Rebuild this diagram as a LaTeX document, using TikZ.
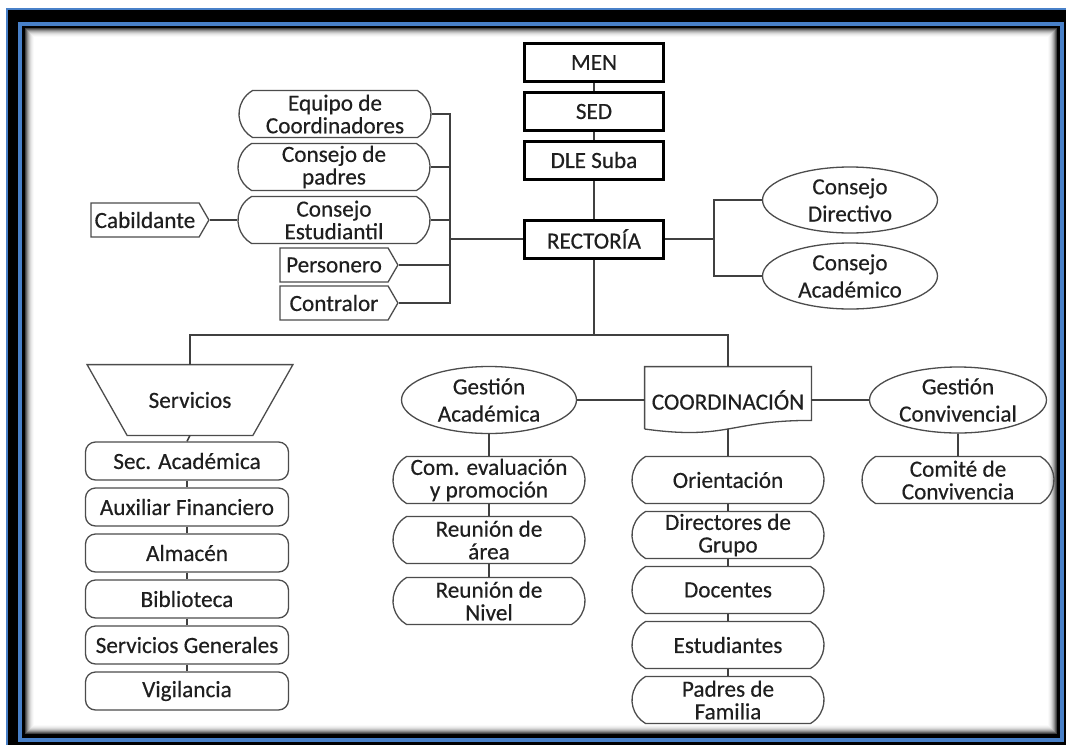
\documentclass[tikz,border=0pt]{standalone}
\usepackage{fontspec}
\setmainfont{Carlito}[FakeBold=0.4]
\usetikzlibrary{shapes.geometric,shapes.misc,shapes.symbols}
\definecolor{marco}{RGB}{72,128,200}
\tikzset{
  caja/.style={draw=black, line width=1.5pt, minimum width=69.5pt, minimum height=19pt, inner sep=0pt},
  ovalo/.style={ellipse, draw=black!70, line width=0.65pt, minimum width=87.5pt, minimum height=33pt, inner xsep=0pt, inner ysep=-1.5pt, align=center, font=\fontsize{11.6}{13.6}\selectfont},
  capsula/.style={rounded rectangle, rounded rectangle arc length=120, draw=black!70, line width=0.65pt, minimum width=88pt, minimum height=23.5pt, inner xsep=-4pt, inner ysep=0pt, align=center},
  servbox/.style={rectangle, rounded corners=5pt, draw=black!70, line width=0.65pt, minimum width=101.5pt, minimum height=19pt, inner sep=0pt},
  flecha/.style={signal, signal to=east, signal pointer angle=120, draw=black!70, line width=0.65pt, minimum width=59pt, minimum height=17pt, inner sep=0pt},
  borde/.style={draw=black!70, line width=0.65pt},
  linea/.style={draw=black!75, line width=0.8pt}
}
\begin{document}
\begin{tikzpicture}[x=0.5pt, y=-0.5pt, font=\fontsize{11.6}{11.3}\selectfont, text=black!88]
  % marco
  \useasboundingbox[fill=white] (0,0) rectangle (1066,745);
  \fill[black] (6,8) rectangle (1066,745);
  \draw[marco, line width=1pt] (7,745) -- (7,9) -- (1066,9);
  \draw[marco, line width=2pt] (20,23.5) rectangle (1062,739.5);
  \fill[white] (25,28) rectangle (1057,734);
  \foreach \d/\g in {0/75,1/60,2/45,3/33,4/23,5/15,6/9,7/5,8/2}
    \draw[black!\g, line width=0.5pt] (25.5+\d,28.5+\d) rectangle (1056.5-\d,733.5-\d);

  % cadena superior
  \node[caja] (men) at (594,62.5) {MEN};
  \node[caja] (sed) at (594,111.5) {SED};
  \node[caja] (dle) at (594,160) {DLE Suba};
  \node[caja] (rect) at (594,239) {RECTORÍA};
  \draw[linea] (men) -- (sed);
  \draw[linea] (sed) -- (dle);
  \draw[linea] (dle) -- (rect);

  % consejos
  \node[ovalo] (cdir) at (850,200) {Consejo\\Directivo};
  \node[ovalo] (cacad) at (850,276) {Consejo\\Académico};
  \draw[linea] (rect.east) -- ++(49,0) coordinate (rder) |- (cdir.west);
  \draw[linea] (rder) |- (cacad.west);

  % gobierno escolar
  \node[capsula] (equipo) at (335,114) {Equipo de\\Coordinadores};
  \node[capsula] (cpadres) at (334,167) {Consejo de\\padres};
  \node[capsula] (cestud) at (334,220) {Consejo\\Estudiantil};
  \node[flecha] (perso) at (334,265) {Personero};
  \node[flecha] (contra) at (334,303) {Contralor};
  \node[flecha] (cabil) at (145,220) {Cabildante};
  \coordinate (lbus) at (450,239);
  \draw[linea] (rect.west) -- (lbus);
  \foreach \n in {equipo,cpadres,cestud,perso,contra}
    \draw[linea] (\n.east) -| (lbus);
  \draw[linea] (cabil.east) -- (cestud.west);

  % servicios
  \node[minimum width=102.5pt, minimum height=35pt, inner sep=0pt] (serv) at (190,400) {Servicios};
  \draw[borde] (serv.north west) -- (serv.north east) -- ([xshift=-20pt]serv.south east) -- ([xshift=20pt]serv.south west) -- cycle;
  \foreach \t [count=\i] in {Sec. Académica, Auxiliar Financiero, Almacén, Biblioteca, Servicios Generales, Vigilancia}
    \node[servbox] (s\i) at (187,415+46*\i) {\t};
  \draw[linea] (serv.south) -- (s1.north);
  \foreach \a/\b in {1/2,2/3,3/4,4/5,5/6}
    \draw[linea] (s\a.south) -- (s\b.north);

  % coordinacion
  \node[minimum width=83pt, minimum height=33pt, inner sep=0pt] (coord) at (728,400) {COORDINACIÓN};
  \draw[borde] ([yshift=2.2pt]coord.south west) -- (coord.north west) -- (coord.north east)
    -- ([yshift=6.5pt]coord.south east) .. controls +(-83,0) and +(83,11.4) .. ([yshift=2.2pt]coord.south west)
    coordinate[pos=0.5] (cwave);
  \coordinate (bbus) at (594,335);
  \draw[linea] (rect.south) -- (bbus);
  \draw[linea] (serv.north) |- (coord.north |- bbus) -- (coord.north);

  % gestion academica
  \node[ovalo, minimum height=33.5pt] (gacad) at (489,400) {Gestión\\Académica};
  \node[capsula] (comev) at (489,480) {Com. evaluación\\y promoción};
  \node[capsula] (rarea) at (489,540) {Reunión de\\área};
  \node[capsula] (rnivel) at (489,601) {Reunión de\\Nivel};
  \draw[linea] (gacad.east) -- (coord.west);
  \draw[linea] (gacad) -- (comev);
  \draw[linea] (comev) -- (rarea);
  \draw[linea] (rarea) -- (rnivel);

  % gestion convivencial
  \node[ovalo, minimum width=88.5pt] (gconv) at (958,400) {Gestión\\Convivencial};
  \node[capsula] (comite) at (958,480) {Comité de\\Convivencia};
  \draw[linea] (coord.east) -- (gconv.west);
  \draw[linea] (gconv) -- (comite);

  % equipo de coordinacion
  \foreach \t [count=\i] in {Orientación, Directores de\\Grupo, Docentes, Estudiantes, Padres de\\Familia}
    \node[capsula] (c\i) at (728,425+55*\i) {\t};
  \draw[linea] (cwave) -- (c1.north);
  \foreach \a/\b in {1/2,2/3,3/4,4/5}
    \draw[linea] (c\a.south) -- (c\b.north);
\end{tikzpicture}
\end{document}
